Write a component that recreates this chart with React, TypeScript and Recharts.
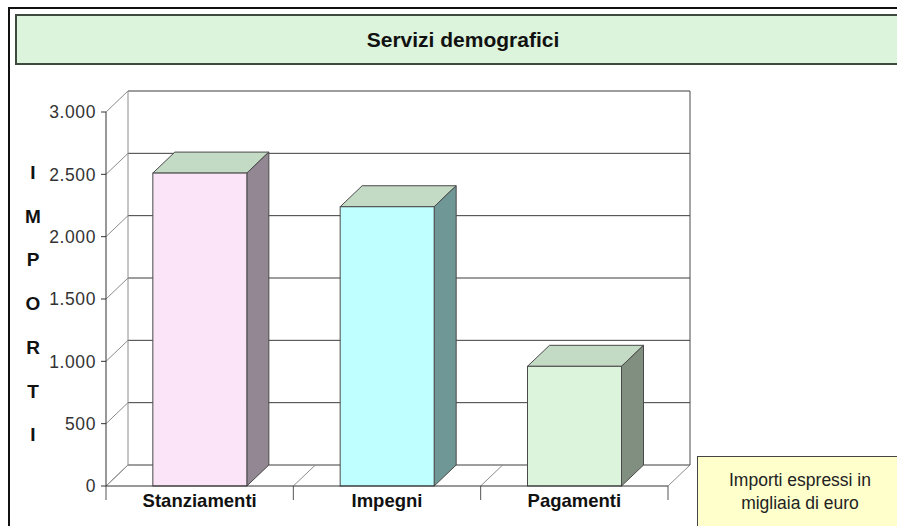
import { BarChart, Bar, XAxis, YAxis, CartesianGrid, ReferenceArea } from "recharts";

const categories = ["Stanziamenti", "Impegni", "Pagamenti"];
const importi = [2510, 2240, 960];
const yTicks = [0, 500, 1000, 1500, 2000, 2500, 3000];
const frontColors = ["#fbe4f8", "#c0ffff", "#dcf4dc"];
const sideColors = ["#928792", "#6f9796", "#808f80"];
const topColor = "#c3dac4";
const axisLetters = ["I", "M", "P", "O", "R", "T", "I"];

// depth of the fake 3D frame
const DX = 22;
const DY = 21;
const FONT = "'Liberation Sans', Arial, sans-serif";

const chartData = categories.map((name, i) => ({ name, value: importi[i] }));

const fmt = (v: number) => String(v).replace(/\B(?=(\d{3})+(?!\d))/g, ".");

function Bar3D(props: any) {
  const { x, y, width, height, index } = props;
  const front = frontColors[index % frontColors.length];
  const side = sideColors[index % sideColors.length];
  const stroke = "#4a4a4a";
  return (
    <g>
      <polygon
        points={`${x},${y} ${x + DX},${y - DY} ${x + width + DX},${y - DY} ${x + width},${y}`}
        fill={topColor}
        stroke={stroke}
      />
      <polygon
        points={`${x + width},${y} ${x + width + DX},${y - DY} ${x + width + DX},${y + height - DY} ${x + width},${y + height}`}
        fill={side}
        stroke={stroke}
      />
      <rect x={x} y={y} width={width} height={height} fill={front} stroke={stroke} />
    </g>
  );
}

function GridLine(props: any) {
  const { x1, y1, x2 } = props;
  return (
    <g>
      <line x1={x1} y1={y1} x2={x1 + DX} y2={y1 - DY} stroke="#8c8c8c" />
      <line x1={x1 + DX} y1={y1 - DY} x2={x2 + DX} y2={y1 - DY} stroke="#3c3c3c" />
    </g>
  );
}

function Frame(props: any) {
  const { x, y, width, height } = props;
  const bottom = y + height;
  const n = categories.length;
  const bounds = Array.from({ length: n + 1 }, (_, k) => x + (k * width) / n);
  return (
    <g>
      <line x1={x + DX} y1={y - DY} x2={x + DX} y2={bottom - DY} stroke="#8c8c8c" />
      <line x1={x + width + DX} y1={y - DY} x2={x + width + DX} y2={bottom - DY} stroke="#4a4a4a" />
      {bounds.map((bx, k) => (
        <g key={k}>
          <line x1={bx} y1={bottom} x2={bx + DX} y2={bottom - DY} stroke="#8c8c8c" />
          <line x1={bx} y1={bottom} x2={bx} y2={bottom + 14} stroke="#555" />
        </g>
      ))}
    </g>
  );
}

export default function App() {
  return (
    <div
      style={{
        position: "absolute",
        left: 0,
        top: 0,
        width: 897,
        height: 526,
        overflow: "hidden",
        background: "#fff",
        fontFamily: FONT,
      }}
    >
      <div
        style={{
          position: "absolute",
          left: 8,
          top: 7,
          width: 900,
          height: 530,
          borderLeft: "2px solid #111",
          borderTop: "2px solid #111",
        }}
      />
      <div
        style={{
          position: "absolute",
          left: 15,
          top: 14,
          width: 892,
          height: 47,
          background: "#dcf3dc",
          border: "2px solid #3e4a3e",
          display: "flex",
          alignItems: "center",
          justifyContent: "center",
          fontWeight: "bold",
          fontSize: 21,
          color: "#111",
        }}
      >
        Servizi demografici
      </div>
      {axisLetters.map((ch, i) => (
        <div
          key={i}
          style={{
            position: "absolute",
            left: 18,
            top: 161 + i * 43.7,
            width: 30,
            textAlign: "center",
            fontWeight: "bold",
            fontSize: 19,
            lineHeight: "24px",
            color: "#111",
          }}
        >
          {ch}
        </div>
      ))}
      <div
        style={{
          position: "absolute",
          left: 697,
          top: 456,
          width: 206,
          height: 80,
          background: "#ffffcc",
          border: "1.5px solid #444",
          boxSizing: "border-box",
          paddingTop: 12,
          textAlign: "center",
          fontSize: 17.5,
          lineHeight: "23px",
          color: "#222",
        }}
      >
        Importi espressi in
        <br />
        migliaia di euro
      </div>
      <div style={{ position: "absolute", left: 0, top: 0 }}>
        <BarChart
          width={897}
          height={526}
          data={chartData}
          margin={{ top: 112, right: 229, bottom: 10, left: 46 }}
          barCategoryGap="25%"
        >
          <CartesianGrid horizontal={GridLine} vertical={false} />
          <ReferenceArea y1={0} y2={3000} ifOverflow="visible" shape={Frame} />
          <XAxis
            dataKey="name"
            tickLine={false}
            axisLine={{ stroke: "#333" }}
            tickMargin={2}
            tick={{ fontSize: 18.5, fontWeight: "bold", fill: "#111", fontFamily: FONT }}
          />
          <YAxis
            width={60}
            domain={[0, 3000]}
            ticks={yTicks}
            tickFormatter={fmt}
            tickSize={5}
            tickMargin={5}
            axisLine={{ stroke: "#333" }}
            tickLine={{ stroke: "#333" }}
            tick={{ fontSize: 17.5, fill: "#333", fontFamily: FONT, letterSpacing: 0.6 }}
          />
          <Bar dataKey="value" shape={Bar3D} isAnimationActive={false} />
        </BarChart>
      </div>
    </div>
  );
}
